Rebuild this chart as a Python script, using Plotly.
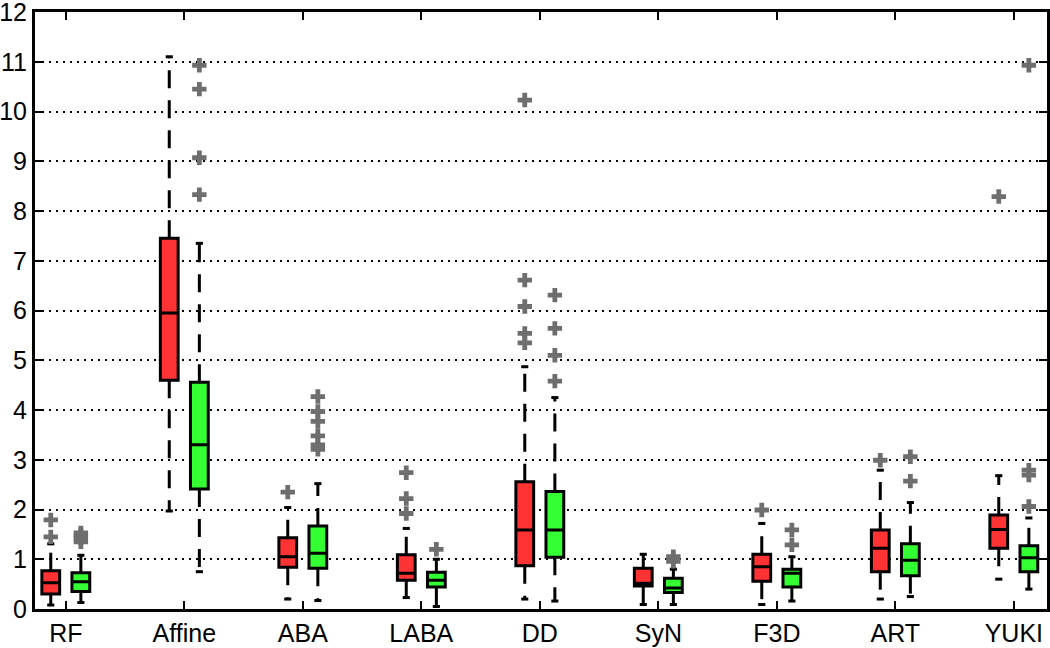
import plotly.graph_objs as go

# categories and box statistics
cats = ["RF", "Affine", "ABA", "LABA", "DD", "SyN", "F3D", "ART", "YUKI"]

red_q1 = [0.30, 4.60, 0.84, 0.58, 0.87, 0.46, 0.56, 0.75, 1.22]
red_med = [0.53, 5.95, 1.05, 0.72, 1.59, 0.52, 0.85, 1.22, 1.60]
red_q3 = [0.77, 7.45, 1.43, 1.09, 2.56, 0.82, 1.10, 1.59, 1.89]
red_lo = [0.08, 1.97, 0.20, 0.23, 0.20, 0.09, 0.09, 0.20, 0.60]
red_hi = [1.31, 11.10, 2.04, 1.62, 4.87, 1.10, 1.72, 2.79, 2.68]
red_out = [[1.45, 1.79], [], [2.35], [1.92, 2.22, 2.74],
           [5.35, 5.54, 6.08, 6.61, 10.23], [], [1.99], [2.99], [8.29]]

green_q1 = [0.35, 2.41, 0.82, 0.44, 1.04, 0.33, 0.44, 0.67, 0.75]
green_med = [0.55, 3.30, 1.12, 0.58, 1.59, 0.42, 0.72, 0.98, 1.03]
green_q3 = [0.73, 4.56, 1.67, 0.74, 2.36, 0.62, 0.80, 1.31, 1.27]
green_lo = [0.13, 0.75, 0.17, 0.05, 0.16, 0.09, 0.16, 0.25, 0.40]
green_hi = [1.08, 7.35, 2.52, 1.00, 4.25, 0.80, 1.05, 2.14, 1.83]
green_out = [[1.35, 1.42, 1.48, 1.53], [8.33, 9.07, 10.45, 10.93],
             [3.21, 3.30, 3.48, 3.77, 3.97, 4.27], [1.20],
             [4.58, 5.10, 5.64, 6.31], [0.96, 1.05], [1.29, 1.59],
             [2.57, 3.06], [2.06, 2.69, 2.79, 10.93]]

RED = "#ff3333"
GREEN = "#33ff33"
OUT = "#6e6e6e"
OFFSET = 0.127
CAP = 0.03

fig = go.Figure()


def add_group(q1, med, q3, lo, hi, out, color, shift):
    pos = [i + 1 + shift for i in range(len(cats))]

    # dashed whiskers + short solid caps
    wx, wy = [], []
    cx, cy = [], []
    for p, a, b, l, h in zip(pos, q1, q3, lo, hi):
        wx += [p, p, None, p, p, None]
        wy += [b, h, None, a, l, None]
        cx += [p - CAP, p + CAP, None, p - CAP, p + CAP, None]
        cy += [h, h, None, l, l, None]
    fig.add_trace(go.Scatter(x=wx, y=wy, mode="lines", showlegend=False,
                             line=dict(color="black", width=3, dash="18px,12px")))
    fig.add_trace(go.Scatter(x=cx, y=cy, mode="lines", showlegend=False,
                             line=dict(color="black", width=3)))

    # boxes (whiskers drawn separately)
    fig.add_trace(go.Box(x=pos, q1=q1, median=med, q3=q3,
                         lowerfence=q1, upperfence=q3, width=0.15,
                         whiskerwidth=0, fillcolor=color, boxpoints=False,
                         line=dict(color="black", width=3), showlegend=False))

    # outliers
    ox, oy = [], []
    for p, vals in zip(pos, out):
        for v in vals:
            ox.append(p)
            oy.append(v)
    fig.add_trace(go.Scatter(x=ox, y=oy, mode="markers", showlegend=False,
                             marker=dict(symbol="cross", size=12, color=OUT)))


add_group(red_q1, red_med, red_q3, red_lo, red_hi, red_out, RED, -OFFSET)
add_group(green_q1, green_med, green_q3, green_lo, green_hi, green_out, GREEN, OFFSET)

fig.update_layout(
    width=1050, height=648,
    margin=dict(l=35, r=3, t=12, b=39),
    plot_bgcolor="white", paper_bgcolor="white",
    boxmode="overlay",
    font=dict(family="Liberation Sans, Arial, sans-serif", size=25, color="black"),
    xaxis=dict(range=[0.74, 9.28], tickvals=list(range(1, 10)), ticktext=cats,
               ticks="inside", ticklen=8, tickwidth=2, tickcolor="black",
               showline=True, linecolor="black", linewidth=3, mirror="ticks",
               showgrid=False, zeroline=False, automargin=False,
               ticklabeloverflow="allow", ticklabelstandoff=0),
    yaxis=dict(range=[0, 12], dtick=1, ticks="inside", ticklen=8, tickwidth=2,
               tickcolor="black", showline=True, linecolor="black", linewidth=3,
               mirror="ticks", showgrid=True, gridcolor="black", gridwidth=1.5,
               griddash="2px,5px", zeroline=False, automargin=False,
               ticklabeloverflow="allow", ticklabelstandoff=0),
)

# drop the default page margin so the figure sits at the window corner
fig.write_html("out.html", config={"displayModeBar": False},
               post_script="document.body.style.margin='0';")
